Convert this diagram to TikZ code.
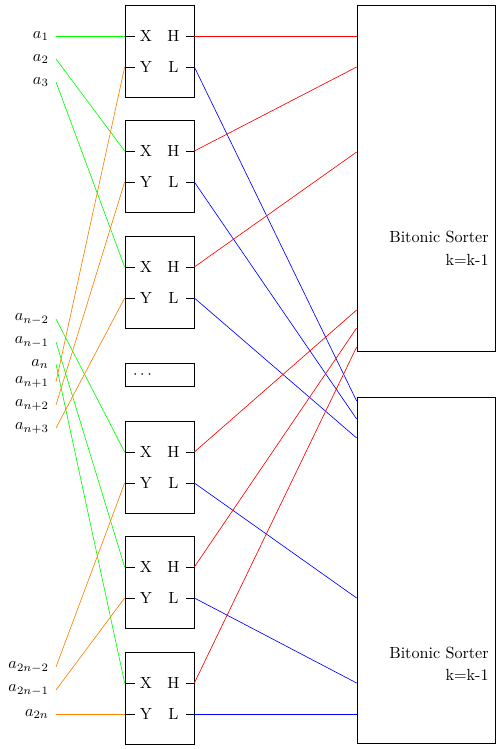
\documentclass[tikz,border=0pt]{standalone}
\usepackage{amsmath,amssymb}
\usetikzlibrary{positioning,calc}

\tikzset{
  cmpbox/.style={draw, minimum width=42.8pt, minimum height=57pt, inner sep=0pt},
  dotbox/.style={draw, text width=32.8pt, inner xsep=5pt, inner ysep=0pt,
                 minimum height=14.3pt, align=left},
  sorter/.style={draw, minimum width=85.6pt, minimum height=214.5pt, inner sep=0pt},
  port/.style={inner sep=0pt},
  inlabel/.style={anchor=east, inner xsep=4.3pt, inner ysep=0pt},
  sortlabel/.style={anchor=east, align=right, inner sep=0pt},
}

\begin{document}
\begin{tikzpicture}[x=0.62pt, y=-0.62pt]
  \useasboundingbox (0,0) rectangle (500,749);

  % ---- inputs a_1 ... a_2n ----
  \foreach \n/\yy/\t in {a1/36/a_1, a2/59/a_2, a3/82/a_3,
                         am2/319/a_{n-2}, am1/342/a_{n-1}, an/364/a_n,
                         ap1/382/a_{n+1}, ap2/405/a_{n+2}, ap3/428/a_{n+3},
                         aq2/667/a_{2n-2}, aq1/690/a_{2n-1}, aq0/714/a_{2n}}
    \node[inlabel] (\n) at (56,\yy) {$\t$};

  % ---- half cleaners ----
  \foreach \i/\yc in {1/51, 2/166, 3/282, 4/467, 5/582, 6/698} {
    \node[cmpbox] (b\i) at (159.5,\yc) {};
    \node[port] (b\i-x) at (146,\yc-15)   {X};
    \node[port] (b\i-h) at (173.5,\yc-15) {H};
    \node[port] (b\i-y) at (146,\yc+16)   {Y};
    \node[port] (b\i-l) at (173.5,\yc+16) {L};
    % port ticks
    \draw (b\i.west |- b\i-x) -- ++(10,0);
    \draw (b\i.west |- b\i-y) -- ++(10,0);
    \draw (b\i.east |- b\i-h) -- ++(-8,0);
    \draw (b\i.east |- b\i-l) -- ++(-8,0);
  }
  \node[dotbox] (bd) at (159.5,374.5) {$\cdots$};

  % ---- the two smaller sorters ----
  \node[sorter] (top) at (426,178) {};
  \node[sorter] (bot) at (426,570) {};
  \node[sortlabel] (ttop) at (489,248.5) {Bitonic Sorter\\[2pt]k=k-1};
  \node[sortlabel] (tbot) at (489,664)   {Bitonic Sorter\\[2pt]k=k-1};

  \foreach \k/\yy in {1/36, 2/67, 3/152, 4/310, 5/328, 6/347}
    \coordinate (t\k) at (top.west |- 0,\yy);
  \foreach \k/\yy in {1/401, 2/419, 3/438, 4/598, 5/683, 6/714}
    \coordinate (u\k) at (bot.west |- 0,\yy);

  % first half goes to X, second half to Y
  \foreach \n/\i in {a1/1, a2/2, a3/3, am2/4, am1/5, an/6}
    \draw[green] (\n.east) -- (b\i.west |- b\i-x);
  \foreach \n/\i in {ap1/1, ap2/2, ap3/3, aq2/4, aq1/5, aq0/6}
    \draw[orange] (\n.east) -- (b\i.west |- b\i-y);

  % H to the upper sorter, L to the lower one
  \foreach \i in {1,...,6} {
    \draw[red]  (b\i.east |- b\i-h) -- (t\i);
    \draw[blue] (b\i.east |- b\i-l) -- (u\i);
  }

\end{tikzpicture}
\end{document}
